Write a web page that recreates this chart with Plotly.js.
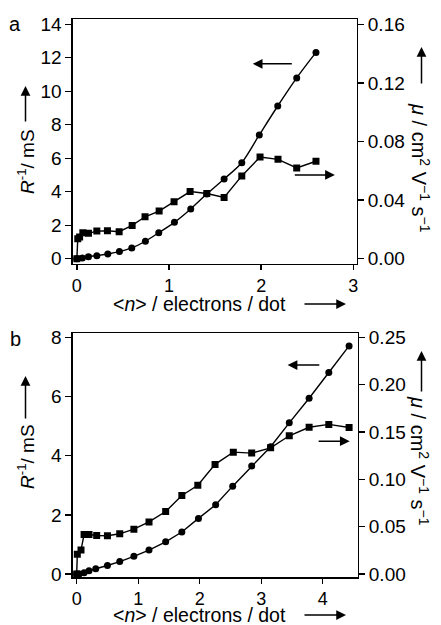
<!DOCTYPE html>
<html>
<head>
<meta charset="utf-8">
<script src="https://cdn.plot.ly/plotly-3.0.1.min.js"></script>
<style>html,body{margin:0;padding:0;background:#fff;}#chart{width:441px;height:625px;}</style>
</head>
<body>
<div id="chart"></div>
<script>
// Panel a data
const aCircN = [0, 0.06, 0.126, 0.217, 0.336, 0.462, 0.596, 0.744, 0.889, 1.059, 1.236, 1.41, 1.598, 1.79, 1.98, 2.18, 2.386, 2.595];
const aCircR = [0, 0.04, 0.12, 0.18, 0.28, 0.42, 0.64, 1.04, 1.55, 2.17, 2.97, 3.86, 4.76, 5.73, 7.39, 9.12, 10.8, 12.32];
const aSqN = [0, 0.01, 0.03, 0.065, 0.126, 0.217, 0.332, 0.459, 0.6, 0.74, 0.893, 1.055, 1.229, 1.41, 1.598, 1.79, 1.988, 2.183, 2.386, 2.595];
const aSqMu = [0, 0.0135, 0.0148, 0.0177, 0.0173, 0.0188, 0.019, 0.0184, 0.0227, 0.0286, 0.0325, 0.0388, 0.0458, 0.0445, 0.0418, 0.0565, 0.0694, 0.0678, 0.0619, 0.0665];
// Panel b data
const bCircN = [0, 0.04, 0.12, 0.2, 0.31, 0.5, 0.70, 0.93, 1.176, 1.447, 1.71, 1.98, 2.26, 2.537, 2.846, 3.154, 3.457, 3.78, 4.1, 4.43];
const bCircR = [0, 0, 0.04, 0.11, 0.18, 0.29, 0.42, 0.6, 0.81, 1.09, 1.42, 1.88, 2.34, 2.97, 3.65, 4.3, 5.11, 5.94, 6.81, 7.71];
const bSqN = [0, 0.01, 0.07, 0.12, 0.2, 0.325, 0.5, 0.70, 0.93, 1.176, 1.447, 1.71, 1.97, 2.25, 2.547, 2.846, 3.154, 3.457, 3.78, 4.1, 4.43];
const bSqMu = [0, 0.021, 0.0253, 0.0418, 0.0418, 0.0407, 0.0404, 0.0425, 0.0474, 0.055, 0.066, 0.083, 0.0937, 0.1158, 0.1287, 0.1277, 0.1333, 0.146, 0.155, 0.158, 0.1547];
// Tick labels
const aXTicks = [0, 1, 2, 3];
const aYTicks = [0, 2, 4, 6, 8, 10, 12, 14];
const aY2Ticks = [0, 0.04, 0.08, 0.12, 0.16];
const bXTicks = [0, 1, 2, 3, 4];
const bYTicks = [0, 2, 4, 6, 8];
const bY2Ticks = [0, 0.05, 0.10, 0.15, 0.20, 0.25];

const FONT = 'Liberation Sans, Arial, sans-serif';
const W = 441, H = 625;
const px = v => v / W, py = v => 1 - v / H;

const lineStyle = {color: '#000', width: 1.4};
const traces = [
  {x: aCircN, y: aCircR, xaxis: 'x', yaxis: 'y', mode: 'lines+markers', line: Object.assign({shape: 'spline', smoothing: 0.8}, lineStyle), marker: {symbol: 'circle', size: 7, color: '#000'}},
  {x: aSqN, y: aSqMu, xaxis: 'x', yaxis: 'y2', mode: 'lines+markers', line: lineStyle, marker: {symbol: 'square', size: 7, color: '#000'}},
  {x: bCircN, y: bCircR, xaxis: 'x2', yaxis: 'y3', mode: 'lines+markers', line: lineStyle, marker: {symbol: 'circle', size: 7, color: '#000'}},
  {x: bSqN, y: bSqMu, xaxis: 'x2', yaxis: 'y4', mode: 'lines+markers', line: lineStyle, marker: {symbol: 'square', size: 7, color: '#000'}}
];

const axBase = {
  showline: true, linecolor: '#000', linewidth: 1.3, ticks: 'outside', ticklen: 6, tickwidth: 1.3, tickcolor: '#000',
  showgrid: false, zeroline: false, tickfont: {family: FONT, size: 19, color: '#000'}
};
const ax = o => Object.assign({}, axBase, o);
const xTickFont = {family: FONT, size: 18, color: '#000'};

const aYr = [-0.32, 14.3], bYr = [-0.11, 8.135];
const layout = {
  width: W, height: H, showlegend: false,
  margin: {l: 0, r: 0, t: 0, b: 0},
  paper_bgcolor: '#fff', plot_bgcolor: '#fff',
  font: {family: FONT, size: 19, color: '#000'},
  xaxis: ax({domain: [72.7 / W, 356.7 / W], anchor: 'y', range: [-0.045, 3.037], tickvals: aXTicks, mirror: true, ticklen: 5, tickfont: xTickFont}),
  yaxis: ax({domain: [py(264), py(19.3)], anchor: 'x', range: aYr, tickvals: aYTicks}),
  yaxis2: ax({overlaying: 'y', side: 'right', anchor: 'x', range: [aYr[0] * 0.16 / 14, aYr[1] * 0.16 / 14], tickvals: aY2Ticks, tickformat: '.2f'}),
  xaxis2: ax({domain: [72.7 / W, 357.7 / W], anchor: 'y3', range: [-0.065, 4.57], tickvals: bXTicks, mirror: true, ticklen: 5, tickfont: xTickFont}),
  yaxis3: ax({domain: [py(577.3), py(333.3)], anchor: 'x2', range: bYr, tickvals: bYTicks}),
  yaxis4: ax({overlaying: 'y3', side: 'right', anchor: 'x2', range: [bYr[0] * 0.25 / 8, bYr[1] * 0.25 / 8], tickvals: bY2Ticks, tickformat: '.2f'}),
  annotations: []
};

const A = layout.annotations;
function txt(text, x, y, angle, size) {
  A.push({text: text, xref: 'paper', yref: 'paper', x: px(x), y: py(y), xanchor: 'center', yanchor: 'middle', showarrow: false, borderpad: 0, textangle: angle || 0, font: {family: FONT, size: size || 19, color: '#000'}});
}
function parrow(hx, hy, tx, ty) {
  A.push({text: '', xref: 'paper', yref: 'paper', x: px(hx), y: py(hy), ax: tx - hx, ay: ty - hy, showarrow: true, arrowhead: 2, arrowsize: 1.3, arrowwidth: 1.5, arrowcolor: '#000'});
}
function darrow(xr, yr, hx, hy, tx, ty) {
  A.push({text: '', xref: xr, yref: yr, x: hx, y: hy, axref: xr, ayref: yr, ax: tx, ay: ty, showarrow: true, arrowhead: 2, arrowsize: 1.3, arrowwidth: 1.5, arrowcolor: '#000'});
}

// panel labels
txt('a', 15, 24, 0, 20);
txt('b', 15, 339, 0, 20);
// left titles
txt('<i>R</i><sup>-1</sup>/ mS', 26, 162, -90, 19);
parrow(25.5, 86, 25.5, 123);
txt('<i>R</i><sup>-1</sup>/ mS', 26, 457, -90, 19);
parrow(25.5, 376, 25.5, 420);
// right titles
txt('<i>μ</i> / cm<sup>2</sup> V<sup>−1</sup> s<sup>−1</sup>', 420, 168, 90, 20);
parrow(421.5, 47, 421.5, 85);
txt('<i>μ</i> / cm<sup>2</sup> V<sup>−1</sup> s<sup>−1</sup>', 420, 461, 90, 20);
parrow(421.5, 351, 421.5, 393);
// x titles
txt('&lt;<i>n</i>&gt; / electrons / dot', 199, 304, 0, 19.5);
parrow(346, 304, 303, 304);
txt('&lt;<i>n</i>&gt; / electrons / dot', 199, 615, 0, 19.5);
parrow(346, 615, 303, 615);
// in-plot arrows
darrow('x', 'y', 1.909, 11.64, 2.349, 11.64);
darrow('x', 'y', 2.80, 5.0, 2.349, 5.0);
darrow('x2', 'y3', 3.43, 7.06, 3.97, 7.06);
darrow('x2', 'y3', 4.44, 4.49, 3.91, 4.49);

Plotly.newPlot('chart', traces, layout, {staticPlot: true, displayModeBar: false});
</script>
</body>
</html>
